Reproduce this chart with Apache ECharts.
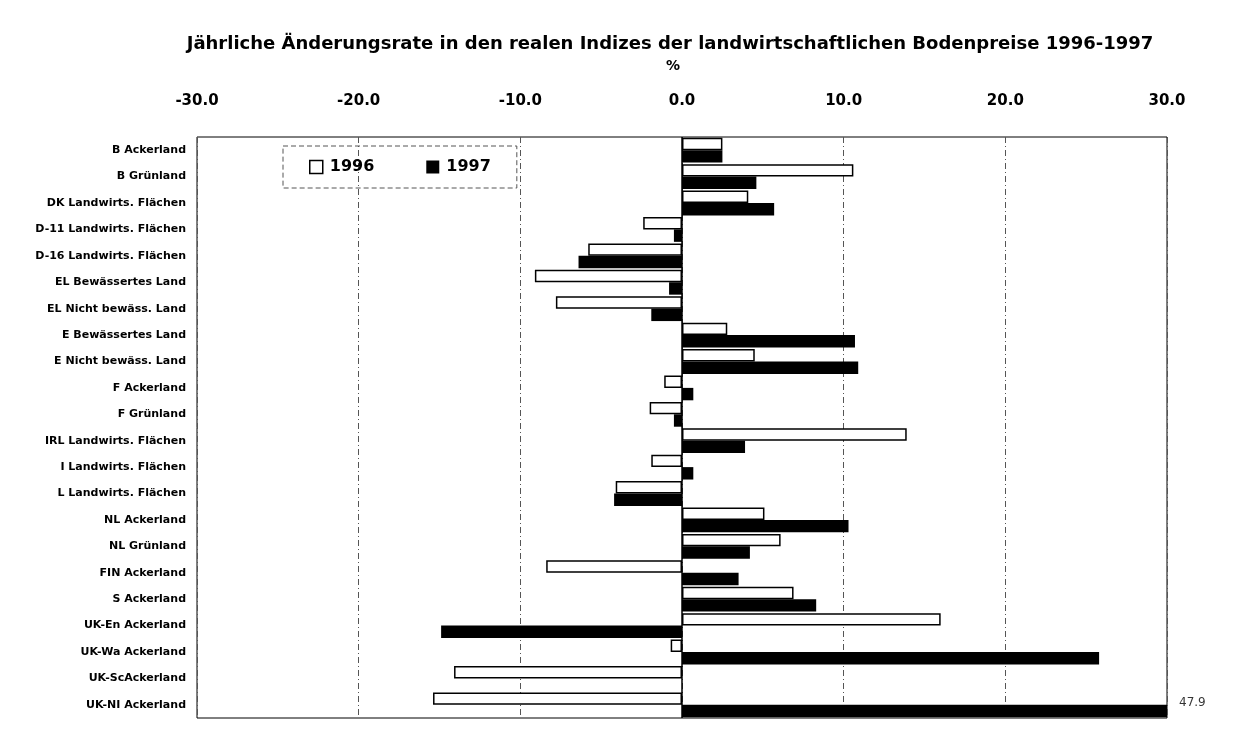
<!DOCTYPE html>
<html>
<head>
<meta charset="utf-8">
<title>Bodenpreise 1996-1997</title>
<script src="https://cdn.jsdelivr.net/npm/echarts@6/dist/echarts.min.js"></script>
<style>
    html, body {
        margin: 0;
        padding: 0;
        background: #fff;
    }
    #chart {
        width: 1250px;
        height: 735px;
    }
</style>
</head>
<body>
<div id="chart"></div>
<script>
// Kategorien (von oben nach unten)
var categories = [
    "B Ackerland",
    "B Grünland",
    "DK Landwirts. Flächen",
    "D-11 Landwirts. Flächen",
    "D-16 Landwirts. Flächen",
    "EL Bewässertes Land",
    "EL Nicht bewäss. Land",
    "E Bewässertes Land",
    "E Nicht bewäss. Land",
    "F Ackerland",
    "F Grünland",
    "IRL Landwirts. Flächen",
    "I Landwirts. Flächen",
    "L Landwirts. Flächen",
    "NL Ackerland",
    "NL Grünland",
    "FIN Ackerland",
    "S Ackerland",
    "UK-En Ackerland",
    "UK-Wa Ackerland",
    "UK-ScAckerland",
    "UK-NI Ackerland"
];

// Änderungsrate in %
var values1996 = [2.5, 10.6, 4.1, -2.4, -5.8, -9.1, -7.8, 2.8, 4.5, -1.1, -2.0, 13.9, -1.9, -4.1, 5.1, 6.1, -8.4, 6.9, 16.0, -0.7, -14.1, -15.4];
var values1997 = [2.5, 4.6, 5.7, -0.5, -6.4, -0.8, -1.9, 10.7, 10.9, 0.7, -0.5, 3.9, 0.7, -4.2, 10.3, 4.2, 3.5, 8.3, -14.9, 25.8, 0, 47.9];

var seriesNames = ["1996", "1997"];
var axisMin = -30;
var axisMax = 30;
var axisStep = 10;

var myChart = echarts.init(document.getElementById("chart"));

// Werte über dem Achsenmaximum werden als Zahl am rechten Rand angezeigt
var overflow = [];
values1997.forEach(function(v, i) {
    if (v > axisMax) {
        overflow.push([axisMax, categories[i], v]);
    }
});

var fontBold = {
    fontFamily: "DejaVu Sans, sans-serif",
    fontWeight: "bold",
    color: "#000"
};

myChart.setOption({
    animation: false,
    title: [
        {
            text: "Jährliche Änderungsrate in den realen Indizes der landwirtschaftlichen Bodenpreise 1996-1997",
            left: 665,
            top: 30,
            textAlign: "center",
            textStyle: Object.assign({ fontSize: 18 }, fontBold)
        },
        {
            text: "%",
            left: 668,
            top: 54,
            textAlign: "center",
            textStyle: Object.assign({ fontSize: 14 }, fontBold)
        }
    ],
    legend: {
        data: [
            { name: seriesNames[0], itemStyle: { color: "#fff", borderColor: "#000", borderWidth: 1.5 } },
            { name: seriesNames[1], itemStyle: { color: "#000" } }
        ],
        left: 283,
        top: 146,
        padding: [13, 26, 13, 26],
        itemGap: 52,
        itemWidth: 13,
        itemHeight: 13,
        icon: "rect",
        borderColor: "#555",
        borderWidth: 1,
        borderType: [5, 3],
        textStyle: Object.assign({ fontSize: 16, padding: [0, 0, 0, 2] }, fontBold)
    },
    grid: {
        left: 197,
        right: 83,
        top: 137,
        bottom: 17,
        show: true,
        borderColor: "#000",
        borderWidth: 1
    },
    xAxis: {
        type: "value",
        position: "top",
        min: axisMin,
        max: axisMax,
        interval: axisStep,
        axisLine: { show: false },
        axisTick: { show: false },
        axisLabel: Object.assign({
            fontSize: 15,
            margin: 28,
            formatter: function(v) {
                return v.toFixed(1);
            }
        }, fontBold),
        splitLine: {
            lineStyle: {
                color: "#555",
                width: 1,
                type: [6, 3, 1, 3]
            }
        }
    },
    yAxis: {
        type: "category",
        data: categories,
        inverse: true,
        axisLine: { show: false },
        axisTick: { show: false },
        axisLabel: Object.assign({
            fontSize: 11,
            margin: 11
        }, fontBold)
    },
    series: [
        {
            name: seriesNames[0],
            type: "bar",
            data: values1996,
            barGap: "0%",
            barCategoryGap: "6%",
            itemStyle: {
                color: "#fff",
                borderColor: "#000",
                borderWidth: 1.5
            },
            markLine: {
                silent: true,
                symbol: "none",
                label: { show: false },
                lineStyle: { color: "#000", width: 1.5, type: "solid" },
                data: [{ xAxis: 0 }]
            }
        },
        {
            name: seriesNames[1],
            type: "bar",
            data: values1997,
            barGap: "0%",
            barCategoryGap: "6%",
            itemStyle: {
                color: "#000"
            }
        },
        {
            // Beschriftung für abgeschnittene Balken
            type: "scatter",
            data: overflow,
            symbolSize: 0,
            silent: true,
            label: {
                show: true,
                position: "right",
                distance: 12,
                offset: [0, -2],
                fontSize: 12,
                fontFamily: "DejaVu Sans, sans-serif",
                color: "#000",
                formatter: function(p) {
                    return p.value[2].toFixed(1);
                }
            }
        }
    ]
});
</script>
</body>
</html>
